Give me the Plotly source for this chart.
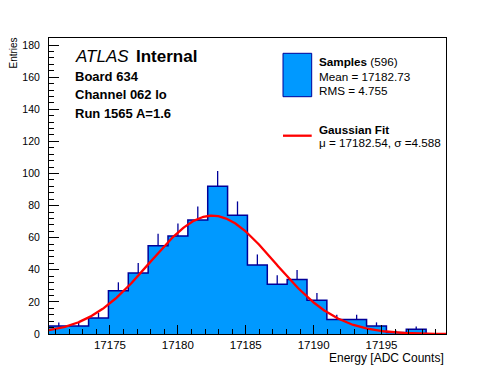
import numpy as np
import plotly.graph_objects as go

# ---- data ----
bin_low = 17170.5          # lower edge of first bin
bin_width = 1.4625         # ADC counts per bin
counts = [5, 5, 10, 27, 38, 55, 61, 71, 92, 74, 43, 31, 34, 21, 9, 9, 5, 1, 3, 0]
fit_mu = 17182.54
fit_sigma = 4.588
fit_amp = 73.7
x_ticks = [17175, 17180, 17185, 17190, 17195]
y_ticks = [0, 20, 40, 60, 80, 100, 120, 140, 160, 180]
x_range = [17170.51, 17199.75]
y_range = [0, 184.4]

n = len(counts)
edges = [bin_low + i * bin_width for i in range(n + 1)]
centers = [bin_low + (i + 0.5) * bin_width for i in range(n)]
errs = [float(np.sqrt(c)) for c in counts]

FONT = "Liberation Sans"
FILL = "#0099ff"
EDGE = "#000099"

fig = go.Figure()

fig.add_trace(go.Scatter(
    x=edges, y=counts + [counts[-1]], mode="lines", line_shape="hv",
    fill="tozeroy", fillcolor=FILL, line=dict(color=EDGE, width=1.5),
    hoverinfo="skip", showlegend=False))

fig.add_trace(go.Scatter(
    x=centers, y=counts, mode="markers",
    marker=dict(size=1, color="rgba(0,0,0,0)"),
    error_y=dict(type="data", array=errs, arrayminus=[0] * n,
                 color=EDGE, thickness=1.3, width=0),
    showlegend=False))

xf = np.linspace(x_range[0], x_range[1], 400)
yf = fit_amp * np.exp(-0.5 * ((xf - fit_mu) / fit_sigma) ** 2)
fig.add_trace(go.Scatter(x=xf, y=yf, mode="lines",
                         line=dict(color="#ff0000", width=2.3),
                         showlegend=False))

# plot area geometry (pixels)
L, R, T, B = 49, 446, 38, 334
W, H = R - L, B - T
def px(x): return (x - L) / W
def py(y): return (B - y) / H

fig.update_layout(
    width=496, height=372,
    margin=dict(l=L, r=496 - R, t=T, b=372 - B, pad=0),
    paper_bgcolor="white", plot_bgcolor="white",
    font=dict(family=FONT, size=12, color="black"),
    showlegend=False,
)
fig.update_xaxes(
    range=x_range, tickvals=x_ticks, ticktext=[str(v) for v in x_ticks],
    ticks="inside", ticklen=9, tickwidth=1, tickcolor="black",
    minor=dict(dtick=1, ticks="inside", ticklen=5, tickcolor="black", tick0=17175),
    showline=True, linecolor="black", linewidth=1, mirror=True,
    showgrid=False, zeroline=False, tickfont=dict(size=11.5, family=FONT))
fig.update_yaxes(
    range=y_range, tickvals=y_ticks, ticktext=[str(v) for v in y_ticks],
    ticks="inside", ticklen=10, tickwidth=1, tickcolor="black",
    minor=dict(dtick=4, ticks="inside", ticklen=5, tickcolor="black", tick0=0),
    showline=True, linecolor="black", linewidth=1, mirror=True,
    showgrid=False, zeroline=False, tickfont=dict(size=10.5, family=FONT),
    ticklabelstandoff=6)

ann = []
def text(x, y, s, size=12, xanchor="left", **kw):
    ann.append(dict(x=px(x), y=py(y), xref="paper", yref="paper", text=s,
                    showarrow=False, xanchor=xanchor, yanchor="middle",
                    font=dict(family=FONT, size=size, color="black"), **kw))

text(72.5, 57, "<i>ATLAS</i>", size=17)
text(133.5, 57, "<b>Internal</b>", size=17)
text(73, 76, "<b>Board 634</b>", size=13)
text(73, 94.5, "<b>Channel 062 lo</b>", size=13)
text(73, 113, "<b>Run 1565 A=1.6</b>", size=13)

text(317, 61.5, "<b>Samples</b> (596)", size=11.7)
text(317, 76, "Mean = 17182.73", size=11.7)
text(317, 90, "RMS = 4.755", size=11.7)
text(317, 129, "<b>Gaussian Fit</b>", size=11.7)
text(317, 142, "μ = 17182.54, σ =4.588", size=11.7)

text(446, 358, "Energy [ADC Counts]", size=12, xanchor="right")
ann.append(dict(x=px(13), y=py(36), xref="paper", yref="paper", text="Entries",
                showarrow=False, textangle=-90, xanchor="center", yanchor="top",
                font=dict(family=FONT, size=10, color="black")))
fig.update_layout(annotations=ann)

fig.update_layout(shapes=[
    dict(type="rect", xref="paper", yref="paper",
         x0=px(283), x1=px(311.7), y0=py(96.7), y1=py(53.3),
         fillcolor=FILL, line=dict(color=EDGE, width=1)),
    dict(type="line", xref="paper", yref="paper",
         x0=px(283), x1=px(311.7), y0=py(135.7), y1=py(135.7),
         line=dict(color="#ff0000", width=2.3)),
])

fig.write_html("out.html", config={"displayModeBar": False},
               post_script="document.body.style.margin='0px';document.body.style.padding='0px';")
